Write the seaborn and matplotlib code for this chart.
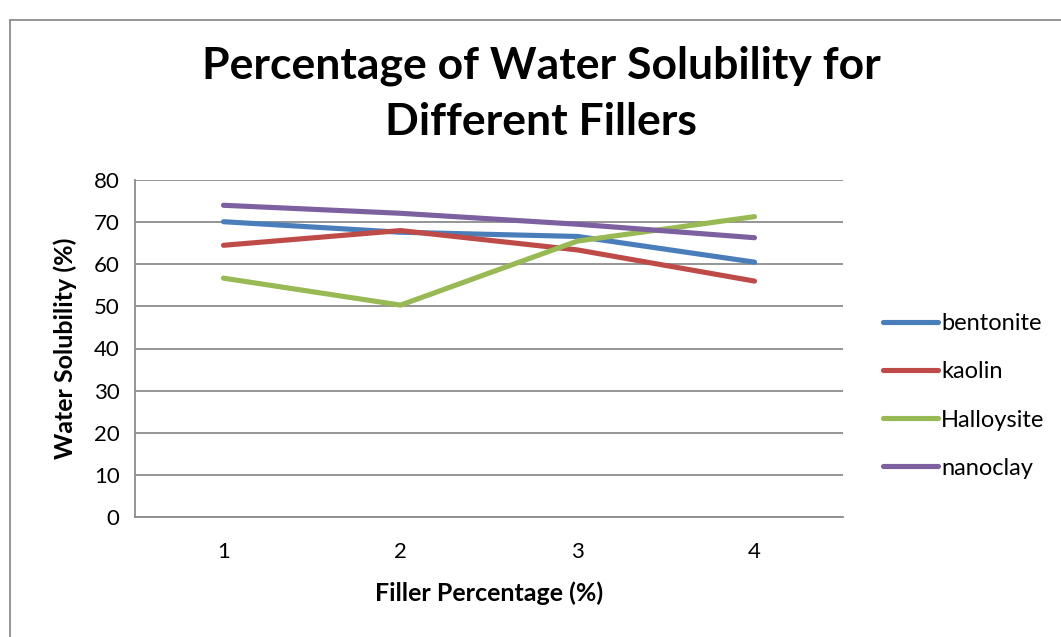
import matplotlib
matplotlib.use("Agg")
import matplotlib.pyplot as plt
from matplotlib.lines import Line2D
import seaborn as sns
import pandas as pd

# Filler loading (%) and water solubility (%) for each filler type
filler_pct = [1, 2, 3, 4]
bentonite = [70.1, 67.6, 66.6, 60.5]
kaolin = [64.5, 68.0, 63.4, 56.0]
halloysite = [56.7, 50.3, 65.5, 71.3]
nanoclay = [74.0, 72.1, 69.5, 66.3]

series_names = ["bentonite", "kaolin", "Halloysite", "nanoclay"]
series_values = [bentonite, kaolin, halloysite, nanoclay]
colors = ["#4A7EBB", "#BE4B48", "#98B954", "#7D60A0"]
y_ticks = [0, 10, 20, 30, 40, 50, 60, 70, 80]

rows = []
for name, vals in zip(series_names, series_values):
    for x, v in zip(filler_pct, vals):
        rows.append({"Filler": name, "x": x, "y": v})
df = pd.DataFrame(rows)

sns.set_style("white")
plt.rcParams["font.family"] = ["Lato", "DejaVu Sans"]
plt.rcParams["text.color"] = "black"
plt.rcParams["axes.labelcolor"] = "black"
plt.rcParams["xtick.color"] = "black"
plt.rcParams["ytick.color"] = "black"

fig = plt.figure(figsize=(10.61, 6.37), dpi=100)
W, H = 1061, 637
ax = fig.add_axes([135 / W, 1 - 517 / H, (843 - 135) / W, (517 - 180) / H])

sns.lineplot(data=df, x="x", y="y", hue="Filler", hue_order=series_names,
             palette=colors, linewidth=3.7, ax=ax, legend=False,
             solid_capstyle="round", solid_joinstyle="round")

ax.set_xlim(0.5, 4.5)
ax.set_ylim(0, 80)
ax.set_yticks(y_ticks)
ax.set_xticks(filler_pct)
ax.set_xticklabels([str(v) for v in filler_pct])
ax.grid(axis="y", color="#8C8C8C", linewidth=1.3)
ax.set_axisbelow(True)
for side in ["top", "right"]:
    ax.spines[side].set_visible(False)
for side in ["left", "bottom"]:
    ax.spines[side].set_color("#8C8C8C")
    ax.spines[side].set_linewidth(1.3)
ax.tick_params(axis="y", direction="out", length=5, width=1.3, color="#8C8C8C",
               labelcolor="black", labelsize=16, pad=6)
ax.tick_params(axis="x", length=0, labelsize=16, labelcolor="black", pad=18)

ax.set_xlabel("Filler Percentage (%)", fontsize=18, fontweight="bold", labelpad=14)
ax.set_ylabel("Water Solubility (%)", fontsize=18, fontweight="bold", labelpad=12)

fig.suptitle("Percentage of Water Solubility for\nDifferent Fillers",
             x=541 / W, y=1 - 45 / H, fontsize=32, fontweight="bold",
             linespacing=1.5, va="top", color="black")

handles = [Line2D([0], [0], color=c, linewidth=3.7, solid_capstyle="round")
           for c in colors]
fig.legend(handles, series_names, loc="center left",
           bbox_to_anchor=(862 / W, 1 - 396 / H), frameon=False,
           fontsize=17, handlelength=2.3, handletextpad=0.15, labelspacing=1.15)

# chart frame (left and top edges)
fig.add_artist(Line2D([9.5 / W, 9.5 / W], [0, 1 - 20 / H], color="#8C8C8C",
                      linewidth=1.3, transform=fig.transFigure))
fig.add_artist(Line2D([9.5 / W, 1], [1 - 20 / H, 1 - 20 / H], color="#8C8C8C",
                      linewidth=1.3, transform=fig.transFigure))

fig.savefig("out.png", dpi=100)
